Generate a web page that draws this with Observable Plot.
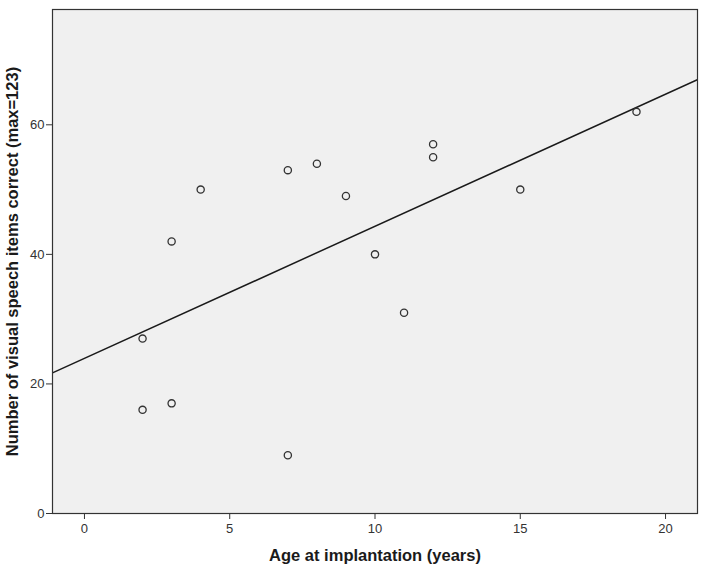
<!DOCTYPE html>
<html><head><meta charset="utf-8">
<script src="https://cdn.jsdelivr.net/npm/d3@7"></script>
<script src="https://cdn.jsdelivr.net/npm/@observablehq/plot@0.6"></script>
<style>body{margin:0;background:#fff;}#chart svg{display:block;}</style>
</head><body><div id="chart"></div>
<script>
const ages = [2, 2, 3, 3, 4, 7, 7, 8, 9, 10, 11, 12, 12, 15, 19];
const scores = [16, 27, 17, 42, 50, 53, 9, 54, 49, 40, 31, 57, 55, 50, 62];
const xTicks = [0, 5, 10, 15, 20];
const yTicks = [0, 20, 40, 60];
const xDomain = [-1.1, 21.1];
const yDomain = [0, 77.8];

const data = ages.map((a, i) => ({age: a, score: scores[i]}));
const mx = d3.mean(ages), my = d3.mean(scores);
const slope = d3.sum(data, d => (d.age - mx) * (d.score - my)) / d3.sum(data, d => (d.age - mx) ** 2);
const intercept = my - slope * mx;
const fit = xDomain.map(x => ({age: x, score: intercept + slope * x}));

const chart = Plot.plot({
  width: 708, height: 571,
  marginLeft: 52, marginRight: 11, marginTop: 9, marginBottom: 58,
  style: {fontFamily: "Liberation Sans, Arial, sans-serif", fontSize: "13px", color: "#333", background: "#fff"},
  x: {domain: xDomain, ticks: xTicks, tickSize: 6, tickPadding: 4, label: null},
  y: {domain: yDomain, ticks: yTicks, tickSize: 6, tickPadding: 2, label: null},
  marks: [
    Plot.frame({fill: "#f0f0f0"}),
    Plot.line(fit, {x: "age", y: "score", stroke: "#1a1a1a", strokeWidth: 1.5, clip: true}),
    Plot.dot(data, {x: "age", y: "score", r: 3.6, stroke: "#333", strokeWidth: 1.3, fill: "none"}),
    Plot.frame({stroke: "#333", strokeWidth: 1.2}),
    Plot.axisX({ticks: xTicks, tickSize: 6, tickPadding: 4, stroke: "#333", fill: "#333", fontSize: 13, label: null}),
    Plot.axisY({ticks: yTicks, tickSize: 6, tickPadding: 2, stroke: "#333", fill: "#333", fontSize: 13, label: null}),
    Plot.text(["Age at implantation (years)"], {frameAnchor: "bottom", dy: 47, fontWeight: "bold", fontSize: 16.5, fill: "#1a1a1a"}),
    Plot.text(["Number of visual speech items correct (max=123)"], {frameAnchor: "left", textAnchor: "middle", dx: -40, rotate: -90, fontWeight: "bold", fontSize: 16.5, fill: "#1a1a1a"})
  ]
});
document.getElementById("chart").append(chart);
</script></body></html>
